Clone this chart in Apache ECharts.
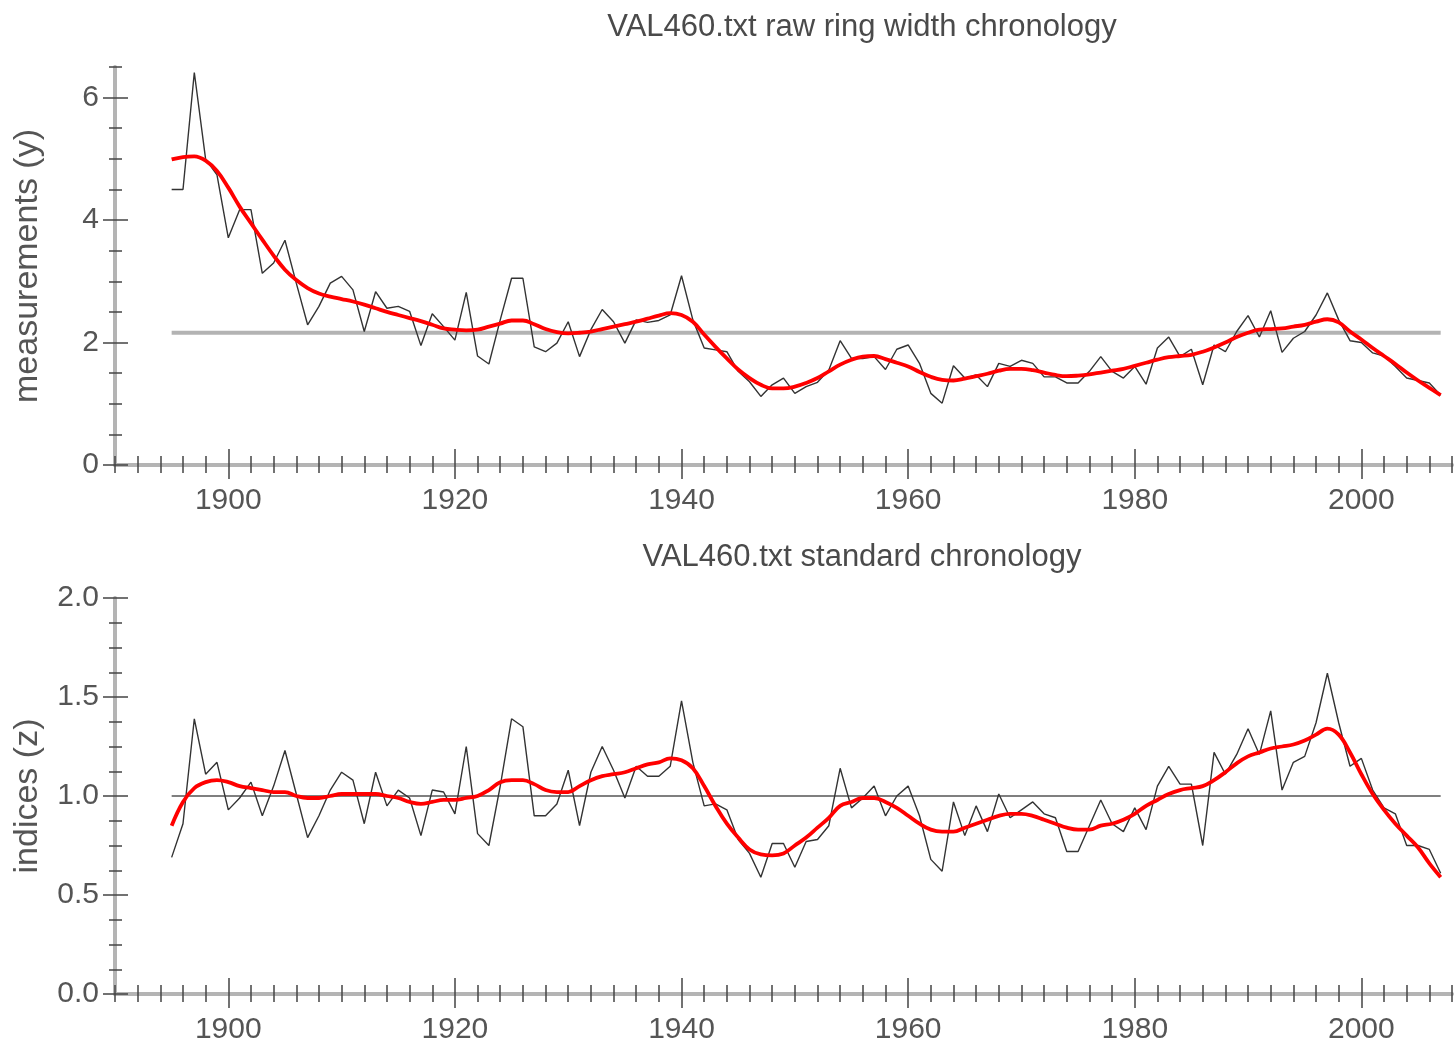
<!DOCTYPE html>
<html>
<head>
<meta charset="utf-8">
<script src="https://cdn.jsdelivr.net/npm/echarts@6/dist/echarts.min.js"></script>
<style>html,body{margin:0;padding:0;background:#fff;}#c{width:1456px;height:1046px;}</style>
</head>
<body>
<div id="c"></div>
<script>
const firstYear = 1895;
const rawWidth = [4.50,4.50,6.41,4.99,4.74,3.71,4.17,4.17,3.13,3.30,3.67,2.97,2.29,2.59,2.97,3.08,2.86,2.18,2.83,2.56,
2.59,2.51,1.95,2.47,2.26,2.04,2.82,1.78,1.65,2.37,3.05,3.05,1.93,1.85,1.99,2.34,1.77,2.21,2.54,2.34,
1.99,2.37,2.33,2.36,2.45,3.09,2.37,1.91,1.88,1.85,1.53,1.36,1.12,1.31,1.42,1.17,1.28,1.35,1.55,2.03,
1.74,1.74,1.77,1.56,1.89,1.96,1.66,1.17,1.01,1.62,1.42,1.47,1.28,1.66,1.61,1.71,1.66,1.44,1.44,1.34,
1.34,1.53,1.77,1.53,1.42,1.61,1.32,1.91,2.09,1.77,1.89,1.31,1.96,1.85,2.18,2.44,2.09,2.52,1.84,2.07,
2.18,2.45,2.81,2.37,2.03,2.00,1.83,1.78,1.61,1.42,1.38,1.34,1.14];
const rawSmooth = [4.99,5.03,5.04,4.97,4.80,4.53,4.22,3.95,3.68,3.42,3.19,3.02,2.89,2.80,2.75,2.71,2.67,2.62,2.56,2.50,
2.45,2.40,2.35,2.29,2.23,2.21,2.20,2.21,2.26,2.31,2.36,2.36,2.30,2.22,2.17,2.15,2.16,2.18,2.22,2.26,
2.30,2.34,2.39,2.44,2.48,2.45,2.34,2.13,1.93,1.74,1.56,1.42,1.31,1.25,1.25,1.28,1.34,1.42,1.53,1.64,
1.72,1.77,1.78,1.73,1.67,1.61,1.52,1.44,1.39,1.38,1.41,1.45,1.49,1.54,1.57,1.57,1.55,1.51,1.47,1.45,
1.46,1.48,1.51,1.54,1.57,1.62,1.67,1.72,1.76,1.78,1.80,1.85,1.92,2.00,2.09,2.16,2.21,2.22,2.23,2.26,
2.29,2.34,2.38,2.33,2.18,2.05,1.91,1.78,1.65,1.51,1.38,1.26,1.14];
const rawMean = 2.16;
const stdIndex = [0.69,0.86,1.39,1.11,1.17,0.93,0.99,1.07,0.90,1.05,1.23,1.01,0.79,0.90,1.03,1.12,1.08,0.86,1.12,0.95,
1.03,0.99,0.80,1.03,1.02,0.91,1.25,0.81,0.75,1.05,1.39,1.35,0.90,0.90,0.96,1.13,0.85,1.12,1.25,1.13,
0.99,1.15,1.10,1.10,1.15,1.48,1.17,0.95,0.96,0.93,0.78,0.71,0.59,0.76,0.76,0.64,0.77,0.78,0.85,1.14,
0.94,0.99,1.05,0.90,1.00,1.05,0.90,0.68,0.62,0.97,0.80,0.95,0.82,1.01,0.89,0.93,0.97,0.91,0.89,0.72,
0.72,0.85,0.98,0.86,0.82,0.94,0.83,1.05,1.15,1.06,1.06,0.75,1.22,1.11,1.21,1.34,1.21,1.43,1.03,1.17,
1.20,1.37,1.62,1.37,1.15,1.19,1.03,0.94,0.91,0.75,0.75,0.73,0.61];
const stdSmooth = [0.85,0.97,1.04,1.07,1.08,1.07,1.05,1.04,1.03,1.02,1.02,1.00,0.99,0.99,1.00,1.01,1.01,1.01,1.01,1.00,
0.99,0.97,0.96,0.97,0.98,0.98,0.99,1.00,1.03,1.07,1.08,1.08,1.06,1.03,1.02,1.02,1.05,1.08,1.10,1.11,
1.12,1.14,1.16,1.17,1.19,1.18,1.14,1.05,0.95,0.86,0.79,0.73,0.705,0.70,0.71,0.75,0.79,0.84,0.89,0.95,
0.97,0.99,0.99,0.97,0.94,0.90,0.86,0.83,0.82,0.82,0.84,0.86,0.88,0.90,0.91,0.91,0.90,0.88,0.86,0.84,
0.83,0.83,0.85,0.86,0.88,0.91,0.95,0.98,1.01,1.03,1.04,1.05,1.08,1.12,1.165,1.20,1.22,1.24,1.25,1.26,
1.28,1.31,1.34,1.31,1.22,1.11,1.01,0.93,0.86,0.80,0.74,0.66,0.59];
const stdMean = 1.0;
const yearTicks = [1900,1920,1940,1960,1980,2000];
const rawTicks = [0,2,4,6];
const stdTicks = [0.0,0.5,1.0,1.5,2.0];
const titles = ['VAL460.txt raw ring width chronology','VAL460.txt standard chronology'];
const yNames = ['measurements (y)','indices (z)'];

const FONT = "'Liberation Sans',Arial,sans-serif";
const TICK = {color:'#444', width:1.5};
const AXLINE = {color:'#b4b4b4', width:4};
const LABEL_COLOR = '#555';

function pairs(vals){ return vals.map((v,i)=>[firstYear+i, v]); }
const lastYear = firstYear + rawWidth.length - 1;

function xAxes(grid){
  const base = {type:'value', gridIndex:grid, position:'bottom', offset:0, min:1890, max:2008, interval:2, splitLine:{show:false}};
  return [
    Object.assign({}, base, {axisLine:{show:true, lineStyle:AXLINE},
      axisTick:{show:true, customValues:yearTicks, length:14, lineStyle:TICK},
      axisLabel:{show:true, customValues:yearTicks, margin:21, fontSize:30, color:LABEL_COLOR, fontFamily:FONT,
        formatter:(v)=>String(v)}}),
    Object.assign({}, base, {axisLine:{show:false}, axisTick:{show:true, length:8, lineStyle:TICK}, axisLabel:{show:false}}),
    Object.assign({}, base, {axisLine:{show:false}, axisTick:{show:true, inside:true, customValues:yearTicks, length:16, lineStyle:TICK}, axisLabel:{show:false}}),
    Object.assign({}, base, {axisLine:{show:false}, axisTick:{show:true, inside:true, length:9, lineStyle:TICK}, axisLabel:{show:false}})
  ];
}
function yAxes(grid, max, minorInt, ticks, name, dec){
  const base = {type:'value', gridIndex:grid, position:'left', offset:0, min:0, max:max, interval:minorInt, splitLine:{show:false}};
  return [
    Object.assign({}, base, {axisLine:{show:true, lineStyle:AXLINE},
      name:name, nameLocation:'middle', nameGap:70, nameTextStyle:{fontSize:34, color:LABEL_COLOR, fontFamily:FONT},
      axisTick:{show:true, customValues:ticks, length:12, lineStyle:TICK},
      axisLabel:{show:true, customValues:ticks, margin:16, fontSize:30, color:LABEL_COLOR, fontFamily:FONT,
        formatter:(v)=>v.toFixed(dec)}}),
    Object.assign({}, base, {axisLine:{show:false}, axisTick:{show:true, length:6, lineStyle:TICK}, axisLabel:{show:false}}),
    Object.assign({}, base, {axisLine:{show:false}, axisTick:{show:true, inside:true, customValues:ticks, length:13, lineStyle:TICK}, axisLabel:{show:false}}),
    Object.assign({}, base, {axisLine:{show:false}, axisTick:{show:true, inside:true, length:7, lineStyle:TICK}, axisLabel:{show:false}})
  ];
}

const option = {
  animation:false,
  backgroundColor:'#fff',
  title:[
    {text:titles[0], left:857, top:7, textAlign:'center', textStyle:{fontSize:31, fontWeight:'normal', color:'#4a4a4a', fontFamily:FONT}},
    {text:titles[1], left:857, top:537, textAlign:'center', textStyle:{fontSize:31, fontWeight:'normal', color:'#4a4a4a', fontFamily:FONT}}
  ],
  grid:[
    {left:115, right:4, top:67, height:398},
    {left:115, right:4, top:598, height:396}
  ],
  xAxis: xAxes(0).concat(xAxes(1)),
  yAxis: yAxes(0, 6.5, 0.5, rawTicks, yNames[0], 0).concat(yAxes(1, 2.0, 0.125, stdTicks, yNames[1], 1)),
  series:[
    {type:'line', xAxisIndex:0, yAxisIndex:0, data:[[firstYear,rawMean],[lastYear,rawMean]], showSymbol:false, lineStyle:{color:'#b3b3b3', width:4}, silent:true},
    {type:'line', xAxisIndex:0, yAxisIndex:0, data:pairs(rawWidth), showSymbol:false, lineStyle:{color:'#333', width:1.4}},
    {type:'line', xAxisIndex:0, yAxisIndex:0, data:pairs(rawSmooth), showSymbol:false, smooth:0.4, lineStyle:{color:'#ff0000', width:3.8}},
    {type:'line', xAxisIndex:4, yAxisIndex:4, data:[[firstYear,stdMean],[lastYear,stdMean]], showSymbol:false, lineStyle:{color:'#555', width:1.5}, silent:true},
    {type:'line', xAxisIndex:4, yAxisIndex:4, data:pairs(stdIndex), showSymbol:false, lineStyle:{color:'#333', width:1.4}},
    {type:'line', xAxisIndex:4, yAxisIndex:4, data:pairs(stdSmooth), showSymbol:false, smooth:0.4, lineStyle:{color:'#ff0000', width:3.8}}
  ]
};
const chart = echarts.init(document.getElementById('c'), null, {renderer:'canvas'});
chart.setOption(option);
</script>
</body>
</html>
